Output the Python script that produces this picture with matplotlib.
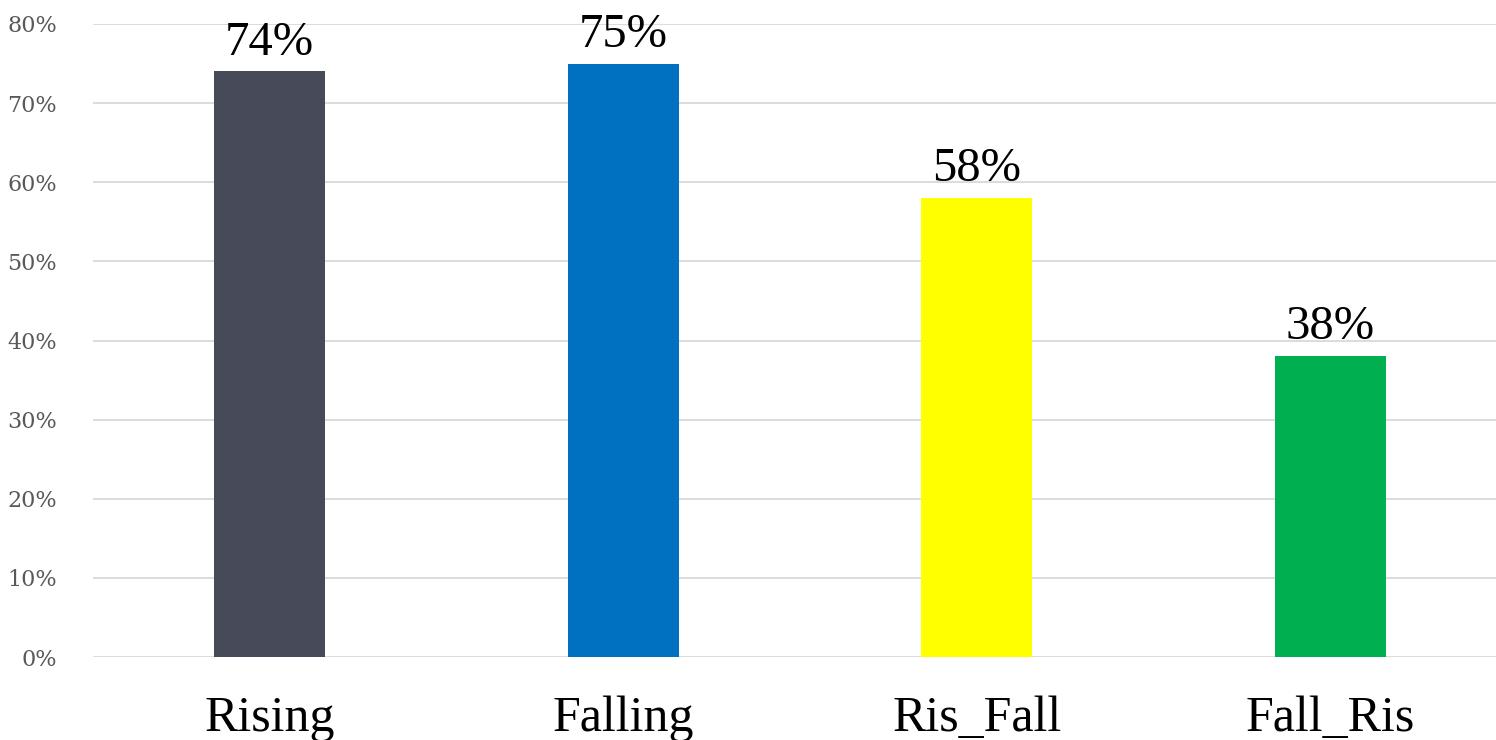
import matplotlib
matplotlib.use("Agg")
from matplotlib import pyplot as plt
from matplotlib.ticker import FuncFormatter

# 各类别及其比例（百分数）
categories = ["Rising", "Falling", "Ris_Fall", "Fall_Ris"]
values = [74, 75, 58, 38]
colors = ["#474A59", "#0070C0", "#FFFF00", "#00B050"]

fig = plt.figure(figsize=(14.96, 7.40), dpi=100)
ax = fig.add_axes([93 / 1496, 83 / 740, 1414 / 1496, 633 / 740])

x = range(len(categories))
ax.bar(x, values, width=0.315, color=colors, zorder=3)

# 柱顶数值标签
for xi, v in zip(x, values):
    ax.annotate(f"{v}%", (xi, v), xytext=(0, 5), textcoords="offset points",
                ha="center", va="bottom", fontsize=35,
                family="Liberation Serif", color="black", annotation_clip=False)

ax.set_xlim(-0.5, 3.5)
ax.set_ylim(0, 80)
ax.set_yticks(range(0, 81, 10))
ax.yaxis.set_major_formatter(FuncFormatter(lambda v, p: f"{int(v)}%"))
ax.set_xticks(list(x))
ax.set_xticklabels(categories, fontsize=36, family="Liberation Serif")

ax.grid(axis="y", color="#D9D9D9", linewidth=1.3, zorder=0)
ax.set_axisbelow(True)
for s in ax.spines.values():
    s.set_visible(False)
ax.tick_params(axis="both", length=0)
ax.tick_params(axis="x", pad=28)
ax.tick_params(axis="y", pad=26, labelsize=16, labelcolor="#595959")
for lab in ax.get_yticklabels():
    lab.set_family("DejaVu Serif")

plt.savefig("out.png", dpi=100)
